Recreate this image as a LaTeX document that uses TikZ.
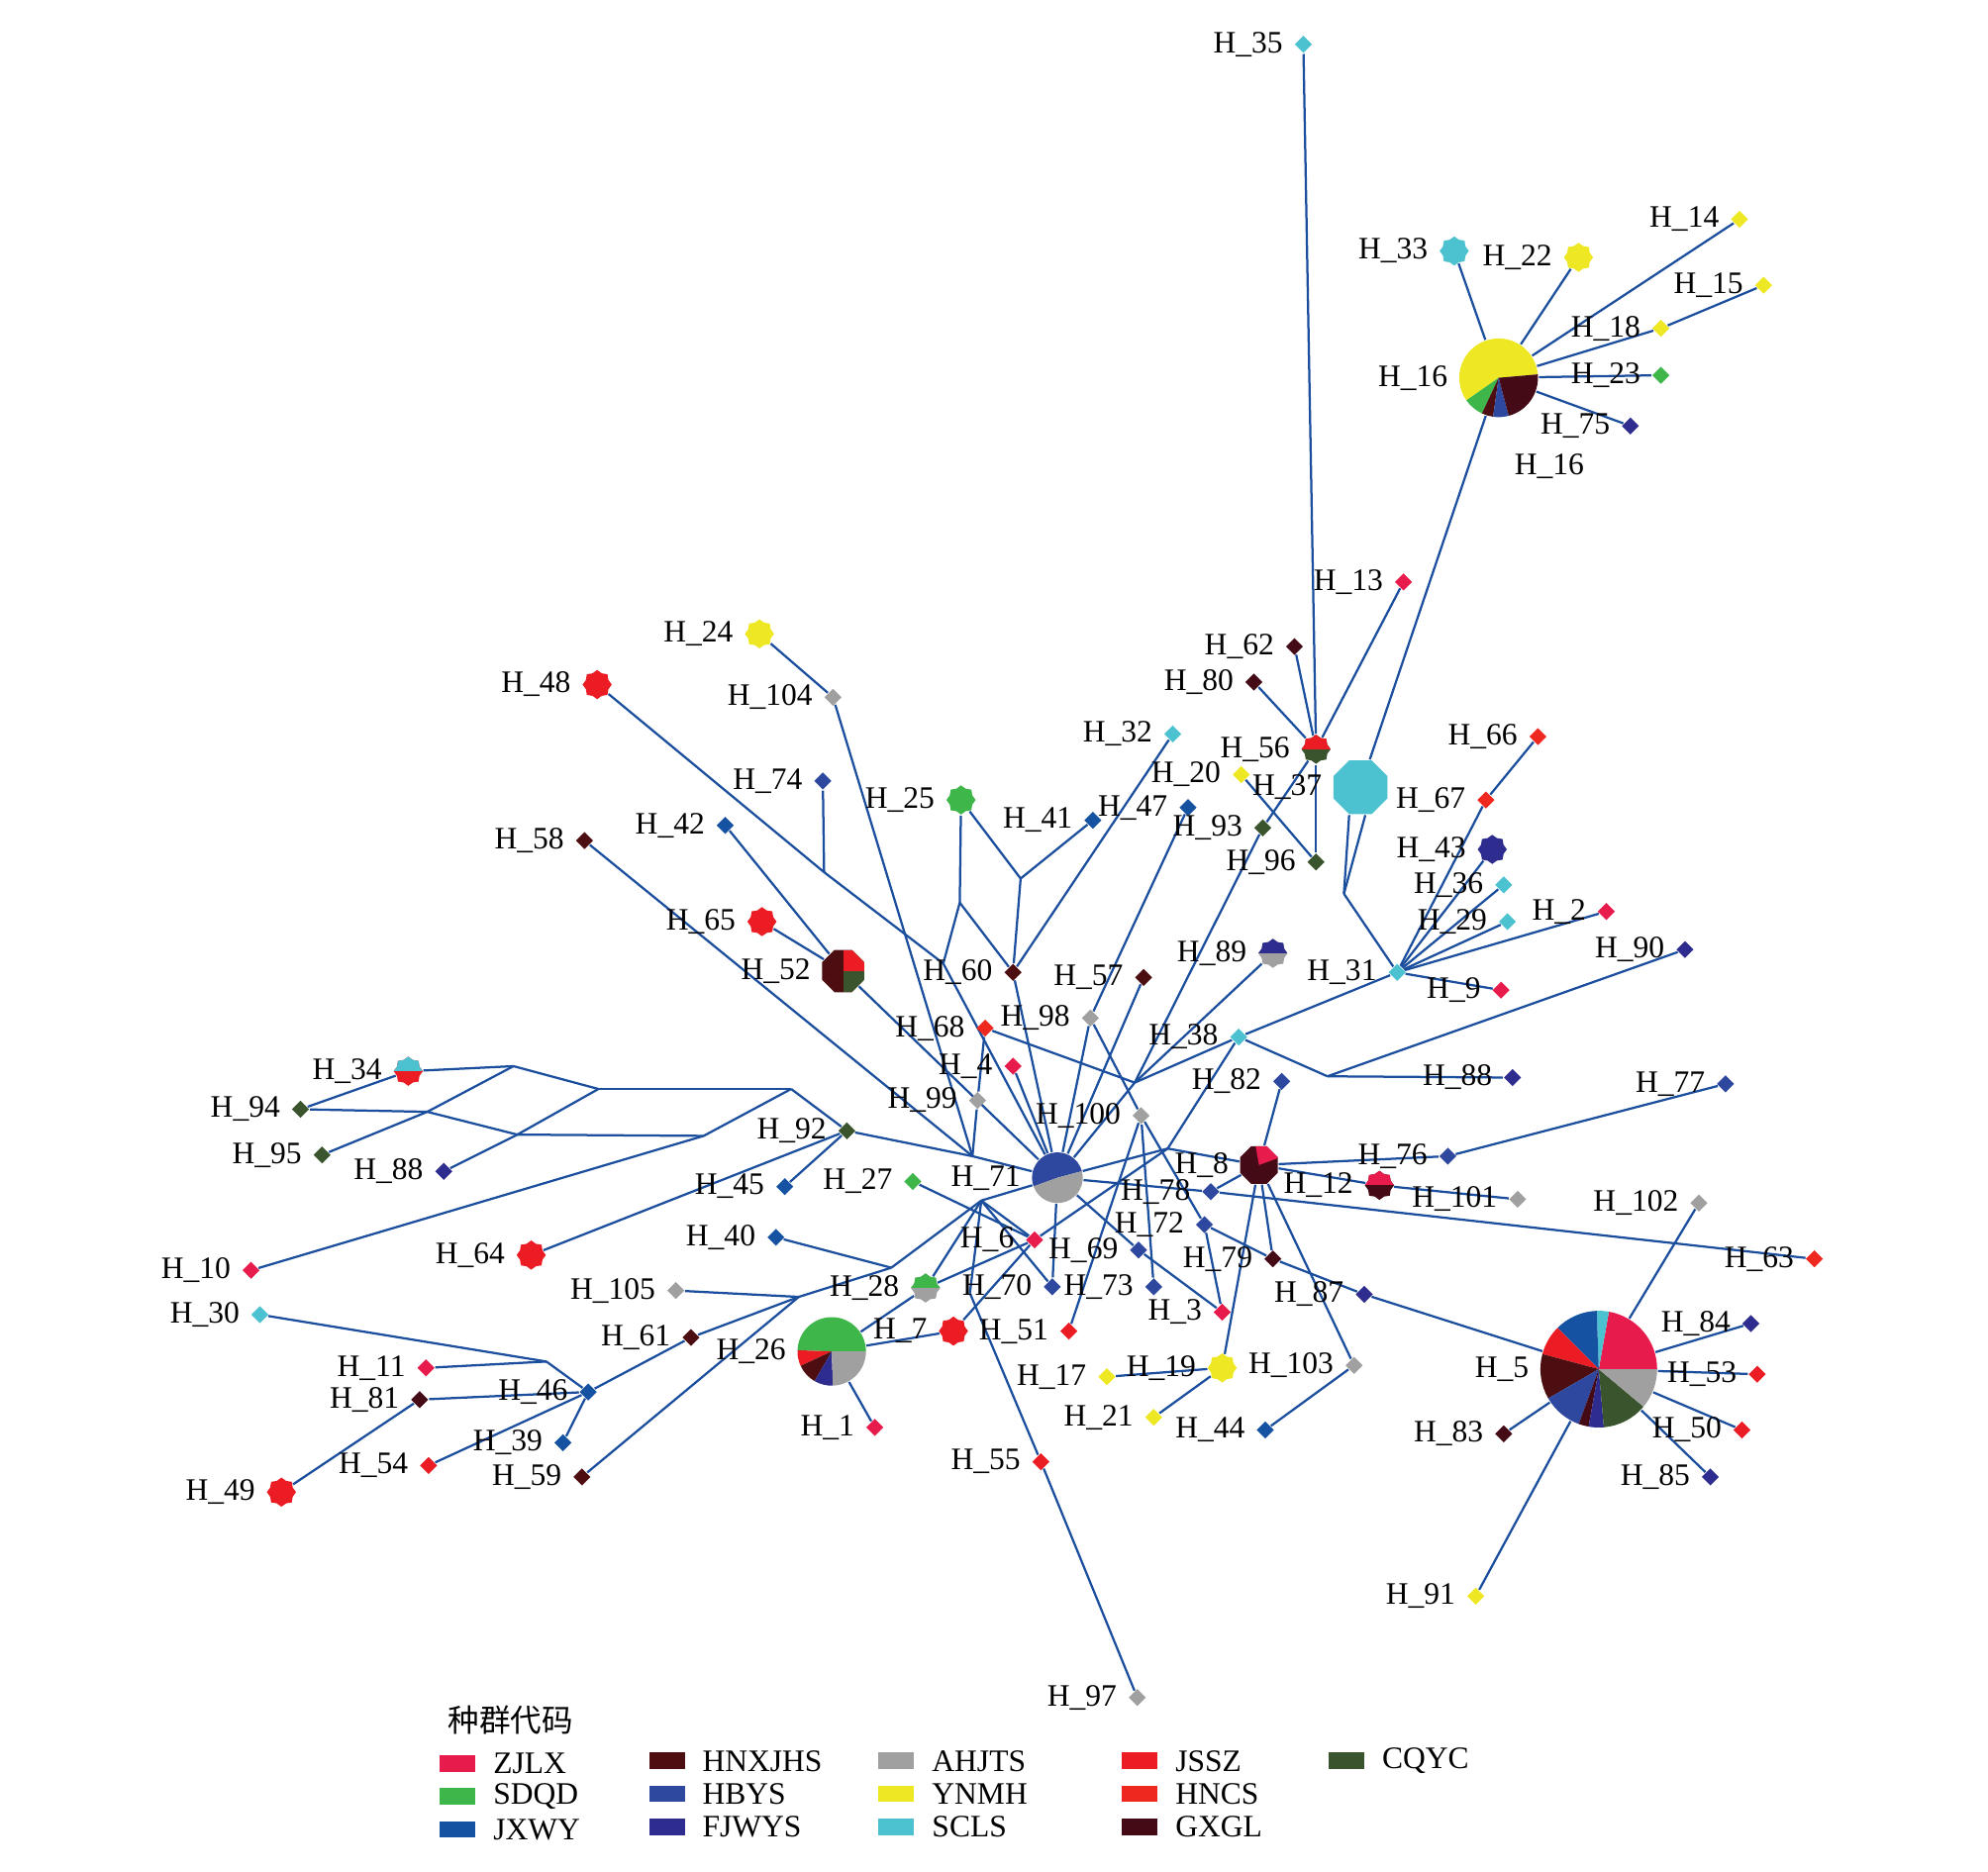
\documentclass[tikz,border=0pt]{standalone}
\usepackage{fontspec}
\setmainfont{Liberation Serif}
\newfontfamily\cjk{Noto Sans CJK SC}
\usetikzlibrary{shapes.geometric,backgrounds}

\definecolor{zjlx}{RGB}{232,28,76}
\definecolor{sdqd}{RGB}{62,182,74}
\definecolor{jxwy}{RGB}{22,82,162}
\definecolor{hnxjhs}{RGB}{76,14,16}
\definecolor{hbys}{RGB}{46,72,160}
\definecolor{fjwys}{RGB}{46,44,142}
\definecolor{ahjts}{RGB}{160,160,160}
\definecolor{ynmh}{RGB}{238,232,36}
\definecolor{scls}{RGB}{76,194,208}
\definecolor{jssz}{RGB}{236,28,36}
\definecolor{hncs}{RGB}{238,40,30}
\definecolor{gxgl}{RGB}{68,10,22}
\definecolor{cqyc}{RGB}{58,84,46}
\definecolor{edge}{RGB}{28,78,158}

\newcommand{\pieslice}[5]{\fill[#5] (#1) -- ++(#3:#2) arc[start angle=#3, end angle=#4, radius=#2] -- cycle;}

\begin{document}
\begin{tikzpicture}
  [
    x=0.01cm, y=-0.01cm,
    link/.style={draw=edge, line width=0.5pt},
    hap/.style={diamond, inner sep=0pt, minimum size=0.14cm},
    big/.style={star, star points=8, star point ratio=1.2, inner sep=0pt, minimum size=0.23cm},
    duo/.style 2 args={big, fill=#2, path picture={\fill[#1] (path picture bounding box.north west) rectangle (path picture bounding box.east);}},
    oct/.style={regular polygon, regular polygon sides=8, inner sep=0pt},
    pie/.style={circle, inner sep=0pt},
    every label/.style={font=\fontsize{7}{8}\selectfont, inner sep=0.5pt},
    label distance=0.06cm,
    swatch/.style={rectangle, minimum width=0.28cm, minimum height=0.13cm, inner sep=0pt}
  ]
  \useasboundingbox (0,0) rectangle (1568,1476);

  % top right
  \node[hap, fill=scls, label=left:H\_35] (h35) at (1028,35) {};
  \node[big, fill=scls, label=left:H\_33] (h33) at (1147,198) {};
  \node[big, fill=ynmh, label=left:H\_22] (h22) at (1245,203) {};
  \node[hap, fill=ynmh, label=left:H\_14] (h14) at (1372,173) {};
  \node[hap, fill=ynmh, label=left:H\_15] (h15) at (1391,225) {};
  \node[hap, fill=ynmh, label=left:H\_18] (h18) at (1310,259) {};
  \node[hap, fill=sdqd, label=left:H\_23] (h23) at (1310,296) {};
  \node[hap, fill=fjwys, label=left:H\_75] (h75) at (1286,336) {};
  \node[pie, minimum size=0.62cm, label=left:H\_16] (h16) at (1182,298) {};
  \node[font=\fontsize{7}{8}\selectfont] (h16b) at (1222,368) {H\_16};
  \node[hap, fill=zjlx, label=left:H\_13] (h13) at (1107,459) {};
  \node[hap, fill=gxgl, label=left:H\_62] (h62) at (1021,510) {};
  \node[hap, fill=gxgl, label=left:H\_80] (h80) at (989,538) {};
  \node[duo={jssz}{cqyc}, label=left:H\_56] (h56) at (1038,591) {};
  \node[hap, fill=scls, label=left:H\_32] (h32) at (925,579) {};
  \node[hap, fill=ynmh, label=left:H\_20] (h20) at (979,611) {};
  \node[oct, minimum size=0.46cm, fill=scls, label=left:H\_37] (h37) at (1073,621) {};
  \node[hap, fill=jxwy, label=left:H\_47] (h47) at (937,637) {};
  \node[hap, fill=jxwy, label=left:H\_41] (h41) at (862,647) {};
  \node[hap, fill=cqyc, label=left:H\_93] (h93) at (996,653) {};
  \node[hap, fill=cqyc, label=left:H\_96] (h96) at (1038,680) {};
  \node[hap, fill=hncs, label=left:H\_66] (h66) at (1213,581) {};
  \node[hap, fill=hncs, label=left:H\_67] (h67) at (1172,631) {};
  \node[big, fill=fjwys, label=left:H\_43] (h43) at (1177,670) {};
  \node[hap, fill=scls, label=left:H\_36] (h36) at (1186,698) {};
  \node[hap, fill=scls, label=left:H\_29] (h29) at (1189,727) {};
  \node[hap, fill=zjlx, label=left:H\_2] (h2) at (1267,719) {};
  \node[hap, fill=fjwys, label=left:H\_90] (h90) at (1329,749) {};
  \node[hap, fill=scls, label=left:H\_31] (h31) at (1102,767) {};
  \node[hap, fill=zjlx, label=left:H\_9] (h9) at (1184,781) {};
  \node[duo={fjwys}{ahjts}, label=left:H\_89] (h89) at (1004,752) {};
  \node[hap, fill=hnxjhs, label=left:H\_57] (h57) at (902,771) {};
  \node[hap, fill=ahjts, label=left:H\_98] (h98) at (860,803) {};
  \node[hap, fill=scls, label=left:H\_38] (h38) at (977,818) {};
  \node[hap, fill=hbys, label=left:H\_82] (h82) at (1011,853) {};
  \node[hap, fill=fjwys, label=left:H\_88] (h88r) at (1193,850) {};
  \node[hap, fill=hbys, label=left:H\_77] (h77) at (1361,855) {};

  % upper left
  \node[big, fill=ynmh, label=left:H\_24] (h24) at (599,500) {};
  \node[big, fill=jssz, label=left:H\_48] (h48) at (471,540) {};
  \node[hap, fill=ahjts, label=left:H\_104] (h104) at (657,550) {};
  \node[hap, fill=hbys, label=left:H\_74] (h74) at (649,616) {};
  \node[big, fill=sdqd, label=left:H\_25] (h25) at (758,631) {};
  \node[hap, fill=jxwy, label=left:H\_42] (h42) at (572,651) {};
  \node[hap, fill=hnxjhs, label=left:H\_58] (h58) at (461,663) {};
  \node[big, fill=jssz, label=left:H\_65] (h65) at (601,727) {};
  \node[oct, minimum size=0.36cm, fill=hnxjhs, label=left:H\_52,
    path picture={\fill[jssz] (path picture bounding box.center) rectangle (path picture bounding box.north east);
                  \fill[cqyc] (path picture bounding box.center) rectangle (path picture bounding box.south east);}] (h52) at (665,766) {};
  \node[hap, fill=hnxjhs, label=left:H\_60] (h60) at (799,767) {};
  \node[hap, fill=hncs, label=left:H\_68] (h68) at (777,811) {};
  \node[hap, fill=zjlx, label=left:H\_4] (h4) at (799,841) {};
  \node[hap, fill=ahjts, label=left:H\_99] (h99) at (771,868) {};
  \node[hap, fill=ahjts, label=left:H\_100] (h100) at (900,880) {};
  \node[hap, fill=cqyc, label=left:H\_92] (h92) at (668,892) {};
  \node[pie, minimum size=0.4cm, label=left:H\_71] (h71) at (834,929) {};
  \node[hap, fill=sdqd, label=left:H\_27] (h27) at (720,932) {};
  \node[hap, fill=jxwy, label=left:H\_45] (h45) at (619,936) {};

  % centre and right
  \node[oct, minimum size=0.32cm, fill=gxgl, label=left:H\_8,
    path picture={\fill[zjlx] (path picture bounding box.center) -- ++(20:0.3cm) arc[start angle=20, end angle=100, radius=0.3cm] -- cycle;}] (h8) at (993,919) {};
  \node[hap, fill=hbys, label=left:H\_78] (h78) at (955,940) {};
  \node[hap, fill=hbys, label=left:H\_76] (h76) at (1142,912) {};
  \node[duo={zjlx}{gxgl}, label=left:H\_12] (h12) at (1088,935) {};
  \node[hap, fill=ahjts, label=left:H\_101] (h101) at (1197,946) {};
  \node[hap, fill=ahjts, label=left:H\_102] (h102) at (1340,949) {};
  \node[hap, fill=hncs, label=left:H\_63] (h63) at (1431,993) {};
  \node[hap, fill=hbys, label=left:H\_72] (h72) at (950,966) {};
  \node[hap, fill=gxgl, label=left:H\_79] (h79) at (1004,993) {};
  \node[hap, fill=fjwys, label=left:H\_87] (h87) at (1076,1021) {};
  \node[hap, fill=hbys, label=left:H\_69] (h69) at (898,986) {};
  \node[hap, fill=zjlx, label=left:H\_6] (h6) at (816,978) {};
  \node[hap, fill=hbys, label=left:H\_73] (h73) at (910,1015) {};
  \node[hap, fill=hbys, label=left:H\_70] (h70) at (830,1015) {};
  \node[hap, fill=zjlx, label=left:H\_3] (h3) at (964,1035) {};
  \node[duo={sdqd}{ahjts}, label=left:H\_28] (h28) at (730,1016) {};
  \node[hap, fill=jxwy, label=left:H\_40] (h40) at (612,976) {};
  \node[hap, fill=ahjts, label=left:H\_105] (h105) at (533,1018) {};
  \node[hap, fill=hnxjhs, label=left:H\_61] (h61) at (545,1055) {};
  \node[pie, minimum size=0.54cm, label=left:H\_26] (h26) at (656,1066) {};
  \node[big, fill=jssz, label=left:H\_7] (h7) at (752,1050) {};
  \node[hap, fill=jssz, label=left:H\_51] (h51) at (843,1050) {};
  \node[hap, fill=zjlx, label=left:H\_1] (h1) at (690,1126) {};
  \node[hap, fill=ynmh, label=left:H\_17] (h17) at (873,1086) {};
  \node[big, fill=ynmh, label=left:H\_19] (h19) at (964,1079) {};
  \node[hap, fill=ahjts, label=left:H\_103] (h103) at (1068,1077) {};
  \node[hap, fill=ynmh, label=left:H\_21] (h21) at (910,1118) {};
  \node[hap, fill=jxwy, label=left:H\_44] (h44) at (998,1128) {};
  \node[hap, fill=jssz, label=left:H\_55] (h55) at (821,1153) {};
  \node[hap, fill=ahjts, label=left:H\_97] (h97) at (897,1339) {};
  \node[pie, minimum size=0.92cm, label=left:H\_5] (h5) at (1261,1080) {};
  \node[hap, fill=fjwys, label=left:H\_84] (h84) at (1381,1044) {};
  \node[hap, fill=jssz, label=left:H\_53] (h53) at (1386,1084) {};
  \node[hap, fill=jssz, label=left:H\_50] (h50) at (1374,1128) {};
  \node[hap, fill=fjwys, label=left:H\_85] (h85) at (1349,1165) {};
  \node[hap, fill=gxgl, label=left:H\_83] (h83) at (1186,1131) {};
  \node[hap, fill=ynmh, label=left:H\_91] (h91) at (1164,1259) {};

  % left
  \node[duo={scls}{jssz}, label=left:H\_34] (h34) at (322,845) {};
  \node[hap, fill=cqyc, label=left:H\_94] (h94) at (237,875) {};
  \node[hap, fill=cqyc, label=left:H\_95] (h95) at (254,911) {};
  \node[hap, fill=fjwys, label=left:H\_88] (h88l) at (350,924) {};
  \node[hap, fill=zjlx, label=left:H\_10] (h10) at (198,1002) {};
  \node[big, fill=jssz, label=left:H\_64] (h64) at (419,990) {};
  \node[hap, fill=scls, label=left:H\_30] (h30) at (205,1037) {};
  \node[hap, fill=zjlx, label=left:H\_11] (h11) at (336,1079) {};
  \node[hap, fill=gxgl, label=left:H\_81] (h81) at (331,1104) {};
  \node[hap, fill=jxwy, label=left:H\_46] (h46) at (464,1098) {};
  \node[hap, fill=jxwy, label=left:H\_39] (h39) at (444,1138) {};
  \node[hap, fill=jssz, label=left:H\_54] (h54) at (338,1156) {};
  \node[hap, fill=hnxjhs, label=left:H\_59] (h59) at (459,1165) {};
  \node[big, fill=jssz, label=left:H\_49] (h49) at (222,1177) {};

  % median vectors
  \coordinate (mv1) at (1060,705);
  \coordinate (mv2) at (1047,849);
  \coordinate (mv3) at (895,854);
  \coordinate (mv4) at (757,712);
  \coordinate (mv5) at (805,693);
  \coordinate (mv6) at (767,912);
  \coordinate (mv7) at (774,947);
  \coordinate (mv8) at (703,1000);
  \coordinate (mv9) at (765,1020);
  \coordinate (mv10) at (921,906);
  \coordinate (mv11) at (744,760);
  \coordinate (mv12) at (650,688);
  \coordinate (mv13) at (630,1023);
  \coordinate (mv14) at (405,841);
  \coordinate (mv15) at (472,859);
  \coordinate (mv16) at (624,859);
  \coordinate (mv17) at (555,896);
  \coordinate (mv18) at (337,877);
  \coordinate (mv19) at (408,895);
  \coordinate (mv20) at (431,1074);

  % pie charts
  \pieslice{h16.center}{0.31cm}{5}{215}{ynmh}
  \pieslice{h16.center}{0.31cm}{215}{245}{sdqd}
  \pieslice{h16.center}{0.31cm}{245}{262}{hnxjhs}
  \pieslice{h16.center}{0.31cm}{262}{285}{hbys}
  \pieslice{h16.center}{0.31cm}{285}{365}{gxgl}
  \pieslice{h71.center}{0.2cm}{15}{200}{hbys}
  \pieslice{h71.center}{0.2cm}{200}{375}{ahjts}
  \pieslice{h26.center}{0.27cm}{0}{178}{sdqd}
  \pieslice{h26.center}{0.27cm}{178}{205}{jssz}
  \pieslice{h26.center}{0.27cm}{205}{240}{hnxjhs}
  \pieslice{h26.center}{0.27cm}{240}{272}{fjwys}
  \pieslice{h26.center}{0.27cm}{272}{360}{ahjts}
  \pieslice{h5.center}{0.46cm}{0}{80}{zjlx}
  \pieslice{h5.center}{0.46cm}{80}{92}{scls}
  \pieslice{h5.center}{0.46cm}{92}{135}{jxwy}
  \pieslice{h5.center}{0.46cm}{135}{165}{jssz}
  \pieslice{h5.center}{0.46cm}{165}{210}{hnxjhs}
  \pieslice{h5.center}{0.46cm}{210}{250}{hbys}
  \pieslice{h5.center}{0.46cm}{250}{260}{gxgl}
  \pieslice{h5.center}{0.46cm}{260}{275}{fjwys}
  \pieslice{h5.center}{0.46cm}{275}{320}{cqyc}
  \pieslice{h5.center}{0.46cm}{320}{360}{ahjts}

  \begin{scope}[on background layer]
  \path[link]
    (h33) edge (h16) (h22) edge (h16) (h14) edge (h16) (h18) edge (h16)
    (h15) edge (h18) (h23) edge (h16) (h75) edge (h16) (h16) edge (h37)
    (h35) edge (h56) (h13) edge (h56) (h62) edge (h56) (h80) edge (h56)
    (h56) edge (h96) (h20) edge (h96) (h56) edge (h93)
    (h37.-112) edge (mv1) (h37.-80) edge (mv1) (mv1) edge (h31)
    (h66) edge (h67) (h67) edge (h31) (h43) edge (h31) (h36) edge (h31)
    (h29) edge (h31) (h2) edge (h31) (h9) edge (h31) (h31) edge (h38)
    (h38) edge (mv2) (mv2) edge (h88r) (mv2) edge (h90)
    (h38) edge (mv3) (h89) edge (mv3) (h93) edge (mv3) (h68) edge (mv3) (mv3) edge (h71)
    (h38) edge (mv10) (h6) edge (mv10) (mv10) edge (h8) (h71) edge (mv10)
    (h77) edge (h76) (h76) edge (h8) (h8) edge (h12) (h12) edge (h101)
    (h82) edge (h8) (h8) edge (h78) (h8) edge (h79) (h8) edge (h19) (h8) edge (h103)
    (h71) edge (h78) (h78) edge (h63)
    (h72) edge (h79) (h79) edge (h87) (h87) edge (h5) (h72) edge (h3) (h100) edge (h72)
    (h69) edge (h3) (h69) edge (h71) (h70) edge (h71)
    (h51) edge (h100) (h73) edge (h100) (h98) edge (h100)
    (h47) edge (h98) (h98) edge (h71) (h57) edge (h71) (h60) edge (h71) (h4) edge (h71)
    (h19) edge (h17) (h19) edge (h21) (h103) edge (h44)
    (h102) edge (h5) (h84) edge (h5) (h53) edge (h5) (h50) edge (h5)
    (h85) edge (h5) (h83) edge (h5) (h91) edge (h5);
  \path[link]
    (h32) edge (h60) (h25) edge (mv4) (h25) edge (mv5) (h41) edge (mv5)
    (mv5) edge (h60) (mv4) edge (h60) (mv4) edge (mv11)
    (h48) edge (mv12) (mv12) edge (mv11) (h74) edge (mv12) (mv11) edge (h71)
    (h52) edge (h71) (h65) edge (h52) (h42) edge (h52)
    (h24) edge (h104) (h104) edge (mv6) (h58) edge (mv6) (h99) edge (mv6)
    (h68) edge (h99) (h92) edge (mv6) (mv6) edge (h71)
    (h71) edge (mv7) (mv7) edge (h6) (mv7) edge (h28) (mv7) edge (mv8)
    (mv7) edge (h70) (mv7) edge (mv9) (mv9) edge (h55) (h55) edge (h97)
    (h27) edge (h6) (h7) edge (h6) (h28) edge (h6)
    (h26) edge (h28) (h26) edge (h7) (h26) edge (h1)
    (h40) edge (mv8) (mv8) edge (mv13) (h105) edge (mv13) (mv13) edge (h61)
    (mv13) edge (h59) (h61) edge (h46)
    (h92) edge (h45) (h92) edge (h64)
    (h34) edge (mv14) (h94) edge (h34) (h94) edge (mv18) (mv18) edge (mv19)
    (mv19) edge (mv17) (h95) edge (mv18) (mv18) edge (mv14) (h88l) edge (mv19)
    (mv19) edge (mv15) (mv14) edge (mv15) (mv15) edge (mv16) (mv16) edge (h92)
    (mv17) edge (mv16) (h10) edge (mv17)
    (h30) edge (mv20) (h11) edge (mv20) (mv20) edge (h46) (h81) edge (h46)
    (h49) edge (h81) (h54) edge (h46) (h39) edge (h46);
  \end{scope}

  % legend
  \node[font=\cjk\fontsize{7}{8}\selectfont, anchor=west] (legtitle) at (341,1357) {种群代码};
  \foreach \c/\t/\x/\y in {zjlx/ZJLX/361/1391, sdqd/SDQD/361/1417, jxwy/JXWY/361/1443,
      hnxjhs/HNXJHS/526/1389, hbys/HBYS/526/1415, fjwys/FJWYS/526/1441,
      ahjts/AHJTS/707/1389, ynmh/YNMH/707/1415, scls/SCLS/707/1441,
      jssz/JSSZ/899/1389, hncs/HNCS/899/1415, gxgl/GXGL/899/1441, cqyc/CQYC/1062/1389}
    \node[swatch, fill=\c, label={[label distance=0.11cm]right:\t}] (key\c) at (\x,\y) {};

\end{tikzpicture}
\end{document}
